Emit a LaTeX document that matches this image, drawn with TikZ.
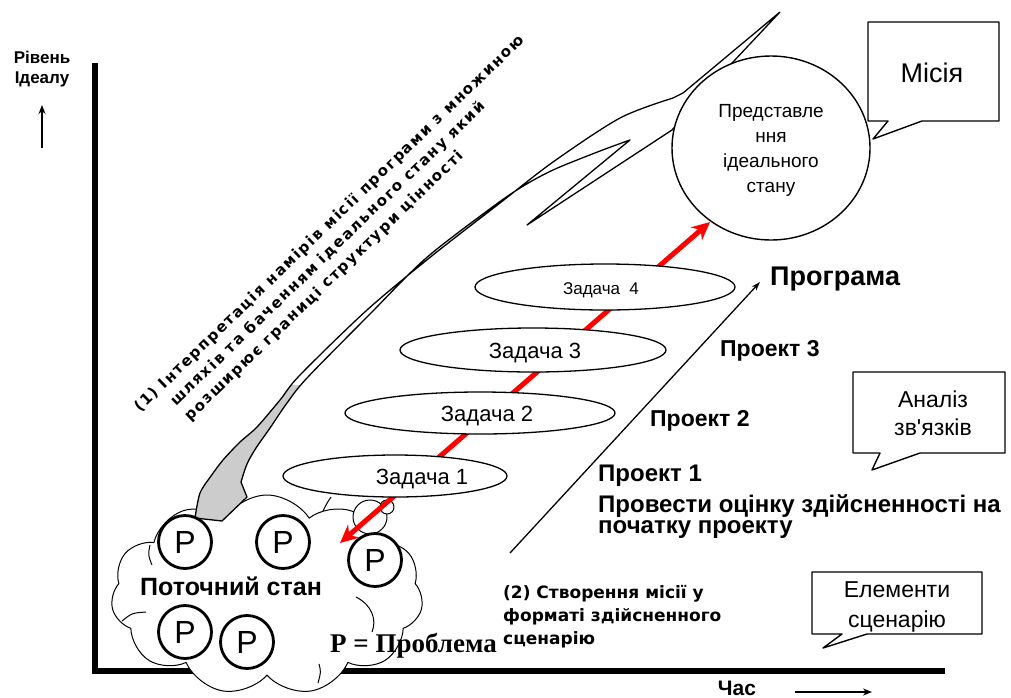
\documentclass[tikz,border=0pt]{standalone}
\usepackage{fontspec}
\setmainfont{Liberation Sans}[Ligatures=TeXOff]
\newfontfamily\dvfont{DejaVu Sans}
\newfontfamily\dvspaced{DejaVu Sans}[LetterSpace=11]
\newfontfamily\tmsfont{Liberation Serif}
\usetikzlibrary{shapes.geometric,shapes.symbols,arrows.meta}
\newcommand\swooshpath{(195,518) -- plot[smooth, tension=0.5] coordinates {(195,518) (200,493) (211,476) (223,460) (240,442) (257,427) (280,400) (300,375) (367,310) (433,255) (500,203) (553,162) (620,118) (673,98)}
 -- (683,93) -- (780,12) -- (733,62) -- (672,130) -- (527,225) -- (630,140)
 -- plot[smooth, tension=0.5] coordinates {(630,140) (600,151) (553,170) (520,188) (487,211) (425,259) (370,314) (307,378) (287,403) (270,428) (256,448) (247,464) (241,482)}
 -- (247,497) -- (222,521) -- cycle}
\begin{document}
\begin{tikzpicture}[x=1pt,y=-1pt, line join=round,
  zad/.style={ellipse, draw, fill=white, line width=1.3pt, inner sep=0},
  pc/.style={circle, draw, line width=2.8pt, fill=white, minimum size=53pt, inner sep=0, font=\fontsize{32}{32}\selectfont},
  txt/.style={inner sep=0, font=\fontsize{#1}{#1}\selectfont},
  bt/.style={inner sep=0, font=\bfseries\fontsize{#1}{#1}\selectfont},
  dvb/.style={inner sep=0, font=\dvfont\bfseries\fontsize{#1}{#1}\selectfont},
  rot/.style={inner sep=0, rotate=44, anchor=base west, font=\dvspaced\bfseries\fontsize{15}{15}\selectfont},
  callout/.style={draw, fill=white, line width=1.4pt},
  thinarrow/.style={line width=1.4pt, -{Stealth[length=9pt,width=7pt]}}]
\useasboundingbox (0,0) rectangle (1011,697);
% axes
\coordinate (ytop) at (95,63);
\coordinate (orig) at (95,671);
\coordinate (xend) at (945,671);
\draw[line width=6pt, line join=miter] (ytop) -- (orig) -- (xend);
\node[bt=17, anchor=base] (ylab1) at (42,63) {Рівень};
\node[bt=17, anchor=base] (ylab2) at (42,83) {Ідеалу};
\coordinate (ya1) at (42,148); \coordinate (ya2) at (42,105);
\draw[thinarrow] (ya1) -- (ya2);
\node[bt=21, anchor=base] (chas) at (737,695) {Час};
\coordinate (xa1) at (795,692); \coordinate (xa2) at (872,692);
\draw[thinarrow] (xa1) -- (xa2);
% cloud
\node[cloud, cloud puffs=11, cloud puff arc=115, cloud ignores aspect, draw, fill=white, line width=1pt, minimum width=312pt, minimum height=200pt, inner sep=0] (cl) at (267,595) {};
\draw[line width=1pt] (331,497) .. controls (327,503) .. (323,511);
\draw[line width=1pt] (356,597) .. controls (372,605) and (377,620) .. (372,632);
\draw[line width=1pt] (319,664) .. controls (321,672) .. (318,683);
\draw[line width=1pt] (122,621) .. controls (132,613) .. (146,612);
\draw[line width=1pt] (150,545) .. controls (148,555) .. (152,565);
\node[circle, draw, fill=white, line width=1pt, minimum size=34pt, inner sep=0] (b1) at (370,517) {};
\node[circle, draw, fill=white, line width=1pt, minimum size=14pt, inner sep=0] (b2) at (387,507) {};
% swoosh
\begin{scope}
\clip (100,385) rectangle (340,540);
\fill[gray!40] \swooshpath;
\end{scope}
\draw[line width=1.3pt] \swooshpath;
% P circles
\node[pc] (p1) at (185,542) {P};
\node[pc] (p2) at (283,542) {P};
\node[pc] (p3) at (375,560) {P};
\node[pc] (p4) at (185,632) {P};
\node[pc] (p5) at (247,642) {P};
\node[bt=25, anchor=base west] (cur) at (140,595) {Поточний стан};
\node[inner sep=0, anchor=base west, font=\tmsfont\bfseries\fontsize{27}{27}\selectfont] (plab) at (330,652) {P = Проблема};
% ideal circle
\node[ellipse, draw, fill=white, line width=1.4pt, minimum width=198pt, minimum height=184pt, inner sep=0] (ideal) at (771,148) {};
\node[txt=19, align=center, font=\fontsize{19}{25}\selectfont] (idealt) at (771,150) {Представле\\ння\\ідеального\\стану};
% red arrow
\coordinate (ra) at (340,543); \coordinate (rb) at (710,222);
\draw[red, line width=5pt, {Stealth[length=18pt,width=17pt]}-{Stealth[length=18pt,width=17pt]}] (ra) -- (rb);
% tasks
\node[zad, minimum width=260pt, minimum height=46pt] (z4) at (605,287) {};
\node[zad, minimum width=266pt, minimum height=44pt] (z3) at (533,350) {};
\node[zad, minimum width=270pt, minimum height=42pt] (z2) at (480,413) {};
\node[zad, minimum width=224pt, minimum height=42pt] (z1) at (395,476) {};
\node[txt=22, anchor=base] (t1) at (422,484) {Задача 1};
\node[txt=22, anchor=base] (t2) at (487,421) {Задача 2};
\node[txt=22, anchor=base] (t3) at (535,358) {Задача 3};
\node[txt=17, anchor=base] (t4) at (601,294) {Задача\ \ 4};
% program arrow
\coordinate (pa) at (510,553); \coordinate (pb) at (760,282);
\draw[line width=1.3pt, -{Stealth[length=9pt,width=6pt]}] (pa) -- (pb);
\node[bt=27, anchor=base west] (prog) at (770,285) {Програма};
\node[bt=23, anchor=base west] (pr3) at (720,356) {Проект 3};
\node[bt=23, anchor=base west] (pr2) at (650,426) {Проект 2};
\node[bt=24, anchor=base west] (pr1) at (598,481) {Проект 1};
\node[bt=24, anchor=base west] (pr1b) at (598,512) {Провести оцінку здійсненності на};
\node[bt=24, anchor=base west] (pr1c) at (598,533) {початку проекту};
\node[dvb=17, anchor=base west] (s1) at (503,598) {(2) Створення місії у};
\node[dvb=17, anchor=base west] (s2) at (503,621) {форматі здійсненного};
\node[dvb=17, anchor=base west] (s3) at (503,644) {сценарію};
% rotated text
\node[rot] (r1) at (140,413) {(1) Інтерпретація\ намірів\ місії\ програми\ з\ множиною};
\node[rot] (r2) at (176,407) {шляхів та баченням\ ідеального стану\ який};
\node[rot] (r3) at (190,422) {розширює границі структури\ цінності};
% callouts
\draw[callout] (868,22) -- (999,22) -- (999,121) -- (922,121) -- (873,139) -- (888,121) -- (868,121) -- cycle;
\node[txt=27, anchor=base] (mis) at (932,82) {Місія};
\draw[callout] (853,372) -- (1005,372) -- (1005,453) -- (920,453) -- (872,470) -- (880,453) -- (853,453) -- cycle;
\node[txt=23, anchor=base] (an1) at (933,407) {Аналіз};
\node[txt=23, anchor=base] (an2) at (933,435) {зв'язків};
\draw[callout] (812,572) -- (982,572) -- (982,634) -- (867,634) -- (823,648) -- (842,634) -- (812,634) -- cycle;
\node[txt=23, anchor=base] (el1) at (897,597) {Елементи};
\node[txt=23, anchor=base] (el2) at (897,627) {сценарію};
\end{tikzpicture}
\end{document}
